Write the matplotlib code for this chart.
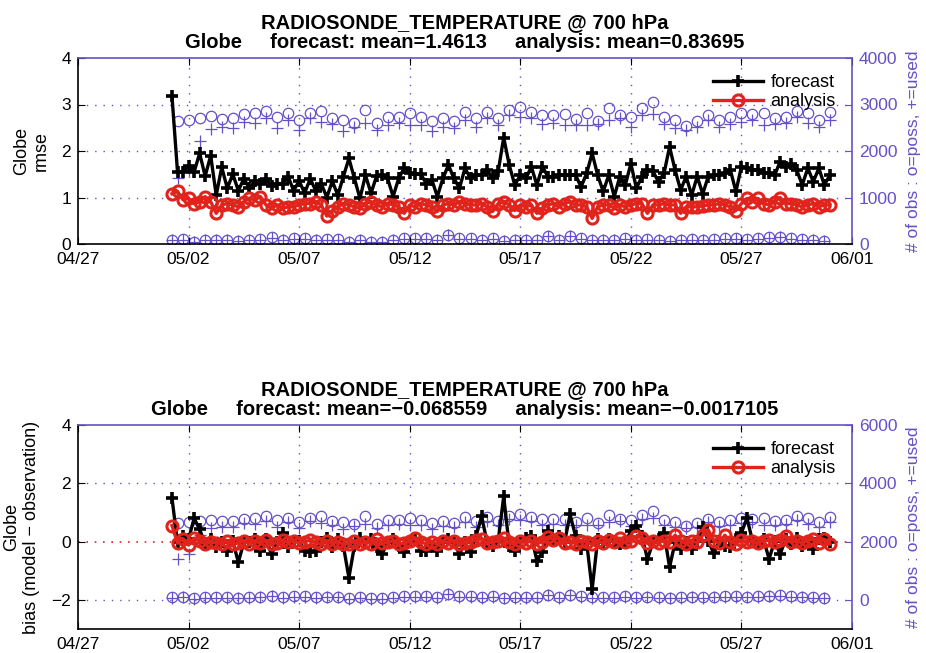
import numpy as np
import matplotlib
matplotlib.use("Agg")
import matplotlib.pyplot as plt

plt.rcParams['font.family'] = ['Liberation Sans', 'DejaVu Sans']

# ---- data -----------------------------------------------------------------
title_main = "RADIOSONDE_TEMPERATURE @ 700 hPa"
region = "Globe"
rmse_means = ("1.4613", "0.83695")
bias_means = ("\u22120.068559", "\u22120.0017105")

xtick_labels = ["04/27", "05/02", "05/07", "05/12", "05/17", "05/22", "05/27", "06/01"]
first_cycle_day = 4.25      # 05/01 06Z, in days after 04/27 00Z
cycle_step_day = 0.25       # 6-hourly cycles

fcst_rmse = [
    3.18, 1.55, 1.55, 1.68, 1.55, 1.95, 1.46, 1.90, 1.05, 1.65,
    1.20, 1.50, 1.15, 1.40, 1.20, 1.35, 1.30, 1.40, 1.25, 1.30,
    1.30, 1.45, 1.15, 1.35, 1.10, 1.40, 1.15, 1.30, 1.00, 1.35,
    1.05, 1.45, 1.84, 1.41, 0.98,
    1.48, 1.09, 1.46, 1.48, 1.41, 1.02, 1.41, 1.63, 1.52, 1.50,
    1.50, 1.30, 1.38, 1.02, 1.41, 1.70, 1.41, 1.20, 1.63, 1.41,
    1.48, 1.48, 1.59, 1.41, 1.56, 2.29, 1.70, 1.27, 1.48, 1.41,
    1.66, 1.27, 1.66, 1.45, 1.45, 1.48, 1.48, 1.48, 1.48, 1.23,
    1.52, 1.95, 1.48, 1.13, 1.48, 1.02, 1.45, 1.27, 1.73, 1.20,
    1.45, 1.59, 1.56, 1.34, 1.52, 2.09, 1.59, 1.16, 1.45, 1.05,
    1.45, 1.08, 1.45, 1.48, 1.48, 1.52, 1.59, 1.13, 1.66, 1.63,
    1.59, 1.59, 1.52, 1.52, 1.48, 1.77, 1.66, 1.73, 1.59, 1.27,
    1.63, 1.34, 1.63, 1.27, 1.48,
]

anl_rmse = [
    1.08, 1.13, 0.95, 0.98, 0.87, 0.91, 1.02, 0.91, 0.66, 0.84,
    0.87, 0.84, 0.80, 0.91, 0.98, 0.95, 1.02, 0.84, 0.77, 0.84,
    0.77, 0.80, 0.80, 0.84, 0.87, 0.87, 0.91, 0.84, 0.60, 0.72,
    0.80, 0.87, 0.84, 0.80, 0.77,
    0.87, 0.91, 0.84, 0.80, 0.87, 0.84, 0.80, 0.66, 0.84, 0.80,
    0.87, 0.84, 0.80, 0.70, 0.84, 0.87, 0.84, 0.91, 0.87, 0.84,
    0.84, 0.87, 0.80, 0.70, 0.87, 0.91, 0.84, 0.72, 0.84, 0.80,
    0.84, 0.66, 0.77, 0.84, 0.87, 0.80, 0.87, 0.91, 0.84, 0.84,
    0.80, 0.55, 0.80, 0.84, 0.84, 0.77, 0.84, 0.80, 0.84, 0.87,
    0.87, 0.66, 0.84, 0.84, 0.87, 0.84, 0.84, 0.66, 0.80, 0.80,
    0.80, 0.82, 0.84, 0.84, 0.87, 0.84, 0.80, 0.72, 0.87, 0.98,
    0.91, 0.98, 0.87, 0.84, 0.91, 1.00, 0.87, 0.87, 0.84, 0.80,
    0.84, 0.87, 0.80, 0.84, 0.84,
]

fcst_bias = [
    1.49, -0.03, 0.20, 0.08, 0.80, 0.42, -0.09, 0.08, -0.20, -0.03,
    -0.32, 0.02, -0.71, -0.03, -0.03, 0.08, -0.32, 0.08, -0.43, -0.03,
    0.30, -0.20, 0.02, 0.02, -0.32, -0.37, -0.32, -0.03, 0.13, -0.20,
    0.08, -0.15, -1.24, -0.15, 0.13,
    -0.03, 0.08, -0.20, -0.43, -0.03, 0.08, -0.15, -0.37, 0.02, 0.08,
    -0.32, -0.32, -0.15, -0.32, -0.03, 0.08, -0.03, -0.43, -0.03, -0.37,
    0.19, 0.87, -0.03, -0.15, 0.02, 1.55, -0.15, -0.32, 0.02, 0.13,
    0.19, -0.66, -0.37, 0.36, 0.02, 0.19, -0.03, 0.93, 0.19, -0.26,
    -0.03, -1.64, 0.08, -0.03, 0.08, 0.02, -0.09, -0.03, 0.36, 0.53,
    0.19, -0.60, -0.03, 0.08, 0.30, -0.88, -0.03, -0.26, -0.03, -0.26,
    0.02, 0.50, 0.02, -0.40, 0.02, -0.15, -0.20, 0.08, 0.30, 0.81,
    0.02, -0.09, 0.08, -0.60, 0.02, -0.43, 0.08, -0.09, 0.13, -0.15,
    0.02, -0.26, 0.08, 0.13, -0.03,
]

anl_bias = [
    0.55, -0.05, 0.10, -0.12, 0.12, 0.03, -0.08, -0.02, -0.04, -0.07,
    0.03, -0.08, -0.05, 0.02, -0.08, 0.03, -0.06, 0.04, -0.07, -0.04,
    0.04, -0.03, 0.02, -0.05, -0.01, 0.05, -0.03, -0.08, 0.03, -0.07,
    0.00, -0.10, -0.07, 0.01, -0.08,
    -0.01, -0.07, 0.10, -0.05, -0.03, 0.03, -0.09, -0.06, 0.01, 0.12,
    -0.03, -0.07, 0.00, -0.08, 0.02, -0.04, 0.03, -0.08, -0.05, 0.00,
    0.04, 0.10, -0.06, -0.01, 0.02, 0.12, -0.03, -0.08, 0.01, -0.04,
    0.02, -0.08, 0.00, 0.16, 0.06, 0.13, -0.05, 0.00, -0.07, 0.03,
    -0.02, -0.10, 0.01, -0.04, 0.04, 0.00, 0.12, -0.03, 0.03, 0.18,
    0.13, -0.06, 0.01, -0.04, 0.03, -0.03, 0.22, 0.03, -0.07, 0.01,
    -0.03, 0.22, 0.40, 0.03, -0.05, 0.22, 0.00, -0.07, 0.04, -0.02,
    0.01, -0.06, 0.03, 0.04, 0.00, 0.06, 0.20, -0.03, 0.02, -0.05,
    0.03, 0.10, -0.04, 0.08, -0.08,
]

# observation counts: synoptic (00Z/12Z) and off-hour (06Z/18Z) cycles
obs_poss_syn = [
    2645, 2667, 2700, 2750, 2690, 2700, 2790, 2810, 2870, 2740,
    2810, 2667, 2810, 2870, 2700, 2667, 2595,
    2880, 2610, 2740, 2740, 2810, 2740, 2650, 2700, 2650, 2845,
    2700, 2845, 2700, 2880, 2940, 2845, 2775, 2775, 2790, 2680,
    2810, 2650, 2920, 2775,
    2740, 2920, 3060, 2740, 2667, 2540, 2650, 2775, 2667, 2740,
    2810, 2790, 2810, 2700, 2740, 2870, 2825, 2667, 2845,
]
obs_used_syn = [
    1410, 1590, 2220, 2466, 2510, 2490, 2630, 2595, 2720, 2490,
    2667, 2450, 2700, 2630, 2580, 2430, 2520,
    2595, 2450, 2560, 2595, 2560, 2560, 2437, 2520, 2490, 2667,
    2510, 2700, 2560, 2775, 2740, 2700, 2580, 2595, 2560, 2560,
    2560, 2580, 2667, 2700,
    2520, 2780, 2800, 2580, 2490, 2450, 2510, 2667, 2520, 2580,
    2630, 2667, 2560, 2580, 2595, 2740, 2595, 2510, 2667,
]
obs_poss_off = [
    86, 100, 50, 86, 86, 86, 72, 86, 100, 143,
    86, 122, 122, 86, 100, 100, 50, 86,
    50, 50, 86, 122, 122, 122, 86, 193, 122, 122,
    86, 122, 72, 86, 86, 86, 172, 86, 172, 122,
    86, 86, 86, 122, 86,
    100, 86, 72, 86, 100, 86, 100, 122, 122, 100,
    122, 143, 150, 122, 100, 86, 72,
]
obs_used_off = [
    80, 92, 45, 80, 80, 80, 66, 80, 92, 135,
    80, 115, 115, 80, 92, 92, 45, 80,
    45, 45, 80, 115, 115, 115, 80, 185, 115, 115,
    80, 115, 66, 80, 80, 80, 165, 80, 165, 115,
    80, 80, 80, 115, 80,
    92, 80, 66, 80, 92, 80, 92, 115, 115, 92,
    115, 135, 142, 115, 92, 80, 66,
]

# ---- style ----------------------------------------------------------------
PURPLE = "#6650C8"
RED = "#E0241C"
GRID_DASH = (0, (1, 5))
FS = 12.5
TITLE_FS = 14.5

n = len(fcst_rmse)
t = first_cycle_day + cycle_step_day * np.arange(n)

# interleave off-hour (06/18Z) and synoptic (00/12Z) cycles
obs_poss = np.empty(n)
obs_used = np.empty(n)
obs_poss[0::2] = obs_poss_off
obs_poss[1::2] = obs_poss_syn
obs_used[0::2] = obs_used_off
obs_used[1::2] = obs_used_syn

W, H = 926, 653
fig = plt.figure(figsize=(W / 100, H / 100), dpi=100)


def panel(rect, fc, an, ylim, yticks, rylim, rticks, ylabel, means, zero_line):
    left, top, right, bottom = rect
    ax = fig.add_axes([left / W, 1 - bottom / H, (right - left) / W, (bottom - top) / H])
    axr = ax.twinx()
    ax.set_zorder(axr.get_zorder() + 1)
    ax.patch.set_visible(False)

    # observation counts on the right axis
    axr.plot(t, obs_poss, linestyle="none", marker="o", ms=7.5, mfc="none",
             mec=PURPLE, mew=0.9)
    axr.plot(t, obs_used, linestyle="none", marker="+", ms=8.5, mec=PURPLE, mew=0.9)
    axr.set_ylim(*rylim)
    axr.set_yticks(rticks)
    axr.tick_params(axis="y", direction="in", colors=PURPLE, labelsize=FS, length=5, pad=5)
    axr.set_ylabel("# of obs : o=poss, +=used", color=PURPLE, fontsize=FS, labelpad=6)
    for s in axr.spines.values():
        s.set_visible(False)

    # grid
    for xv in range(5, 35, 5):
        ax.axvline(xv, color=PURPLE, lw=1.0, ls=GRID_DASH, zorder=0)
    for yv in yticks:
        if ylim[0] < yv < ylim[1] and not (zero_line and yv == 0):
            ax.axhline(yv, color=PURPLE, lw=1.0, ls=GRID_DASH, zorder=0)
    if zero_line:
        ax.axhline(0, color=RED, lw=1.2, ls=(0, (1, 4)), zorder=0.5)

    ax.plot(t, fc, color="black", lw=2.4, marker="+", ms=8, mew=2.6, label="forecast")
    ax.plot(t, an, color=RED, lw=2.4, marker="o", ms=8, mfc="none", mew=2.2, label="analysis")

    ax.set_xlim(0, 35)
    ax.set_xticks(range(0, 36, 5))
    ax.set_xticklabels(xtick_labels)
    ax.set_ylim(*ylim)
    ax.set_yticks(yticks)
    ax.tick_params(axis="both", direction="in", labelsize=FS, length=5)
    ax.tick_params(axis="x", top=True, pad=6)
    ax.tick_params(axis="y", pad=5)
    ax.spines["left"].set_color("black")
    ax.spines["bottom"].set_color("black")
    ax.spines["top"].set_color(PURPLE)
    ax.spines["right"].set_color(PURPLE)
    for s in ax.spines.values():
        s.set_linewidth(1.2)
    ax.set_ylabel(ylabel, fontsize=FS + 0.5, labelpad=8)

    ax.set_title(f"{title_main}\n{region}     forecast: mean={means[0]}     analysis: mean={means[1]}",
                 fontsize=TITLE_FS, fontweight="bold", pad=7, linespacing=1.1)

    ax.legend(loc="upper right", frameon=False, fontsize=FS + 0.5, handlelength=2.8,
              labelspacing=0.1, borderaxespad=0.5, handletextpad=0.4)
    return ax


panel((78, 58, 852, 244), fcst_rmse, anl_rmse, (0, 4), [0, 1, 2, 3, 4],
      (0, 4000), [0, 1000, 2000, 3000, 4000], "Globe\nrmse", rmse_means, False)
panel((78, 425, 852, 629), fcst_bias, anl_bias, (-3, 4), [-2, 0, 2, 4],
      (-1000, 6000), [0, 2000, 4000, 6000], "Globe\nbias (model \u2212 observation)",
      bias_means, True)

fig.savefig("out.png", dpi=100)
